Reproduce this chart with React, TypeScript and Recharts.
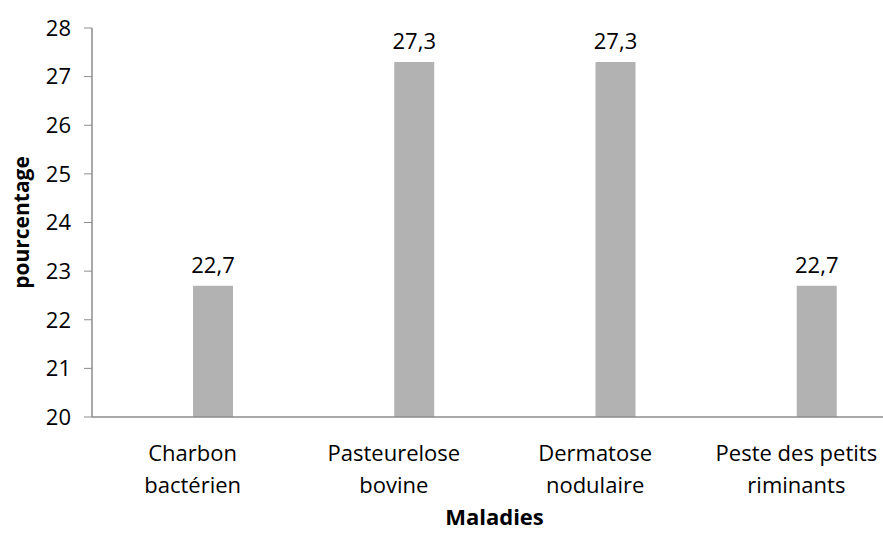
import { BarChart, Bar, XAxis, YAxis, LabelList } from 'recharts'

const categories = [
  'Charbon\nbactérien',
  'Pasteurelose\nbovine',
  'Dermatose\nnodulaire',
  'Peste des petits\nriminants',
]
const percentages = [22.7, 27.3, 27.3, 22.7]
const yTicks = [20, 21, 22, 23, 24, 25, 26, 27, 28]

const FONT = '"Open Sans", sans-serif'
const AXIS_GREY = '#8c8c8c'
const BAR_GREY = '#b2b2b2'

// the spacer series is empty so the real bar sits right of the category centre
const rows = categories.map((name, i) => ({
  name,
  spacer: null,
  value: percentages[i],
}))

function CategoryTick(props: any) {
  const { x, y, payload } = props
  const lines = String(payload.value).split('\n')
  return (
    <text x={x} y={y} textAnchor="middle" fontFamily={FONT} fontSize={22} fill="#000">
      {lines.map((line, i) => (
        <tspan key={i} x={x} dy={i === 0 ? 36 : 32}>
          {line}
        </tspan>
      ))}
    </text>
  )
}

function YTitle(props: any) {
  const vb = props.viewBox
  const cy = vb.y + vb.height / 2
  return (
    <text
      x={21}
      y={cy}
      transform={`rotate(-90, 21, ${cy})`}
      textAnchor="middle"
      dominantBaseline="central"
      fontFamily={FONT}
      fontSize={21}
      fontWeight="bold"
      fill="#000"
    >
      pourcentage
    </text>
  )
}

const formatValue = (v: any) => String(v).replace('.', ',')

export default function App() {
  return (
    <div style={{ position: 'fixed', left: 0, top: 0, width: 883, height: 534, overflow: 'hidden', background: '#fff' }}>
      <BarChart
        width={897}
        height={534}
        data={rows}
        margin={{ top: 28, right: 0, bottom: 0, left: 0 }}
        barSize={40}
        barGap={0}
      >
        <XAxis
          dataKey="name"
          height={117}
          tickLine={false}
          axisLine={{ stroke: AXIS_GREY, strokeWidth: 1.5 }}
          tick={<CategoryTick />}
          interval={0}
          label={{
            value: 'Maladies',
            position: 'insideBottom',
            offset: 9,
            fontFamily: FONT,
            fontSize: 22,
            fontWeight: 'bold',
            fill: '#000',
          }}
        />
        <YAxis
          width={92}
          domain={[20, 28]}
          ticks={yTicks}
          allowDataOverflow
          tickSize={8}
          tickMargin={13}
          tickLine={{ stroke: AXIS_GREY }}
          axisLine={{ stroke: AXIS_GREY, strokeWidth: 1.5 }}
          tick={{ fontFamily: FONT, fontSize: 22, fill: '#000' }}
          label={<YTitle />}
        />
        <Bar dataKey="spacer" fill={BAR_GREY} isAnimationActive={false} />
        <Bar dataKey="value" fill={BAR_GREY} isAnimationActive={false}>
          <LabelList
            dataKey="value"
            position="top"
            offset={13}
            formatter={formatValue}
            fontFamily={FONT}
            fontSize={22}
            fill="#000"
          />
        </Bar>
      </BarChart>
    </div>
  )
}
